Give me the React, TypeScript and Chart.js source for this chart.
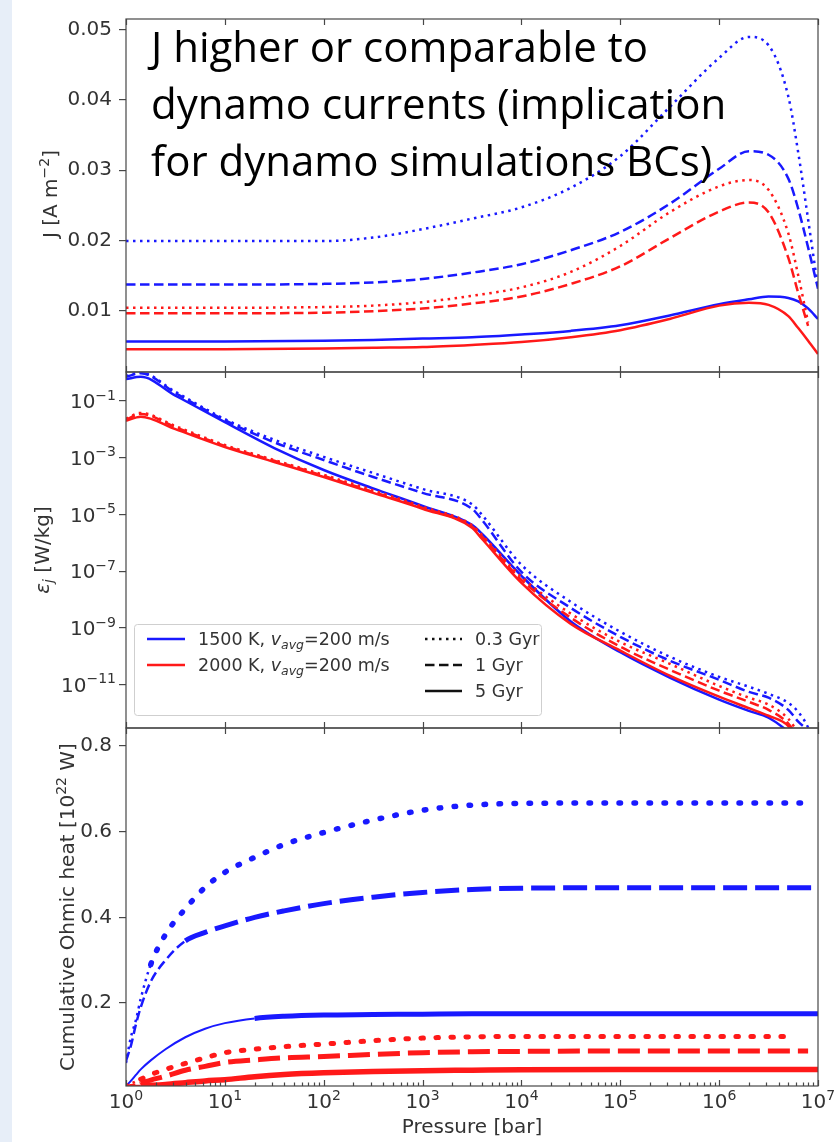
import React, { useEffect, useRef } from 'react';
import { Chart, registerables } from 'chart.js';

Chart.register(...registerables);

const PAGE_W = 835;
const PAGE_H = 1142;
const PLOT_LEFT = 126;
const PLOT_RIGHT = 818;

const BLUE = 'rgb(25, 25, 255)';
const RED = 'rgb(255, 25, 25)';
const INK = '#333333';
const FRAME = '#474747';
const SANS = "'DejaVu Sans', sans-serif";

// Shared pressure axis (bar)
const PRESSURE_MIN = 1;
const PRESSURE_MAX = 1e7;
const PRESSURE_DECADES = [1, 10, 100, 1e3, 1e4, 1e5, 1e6, 1e7];

// ---- Top panel: current density J [A m^-2] ----
const PRESSURE_J = [1, 10, 100, 316, 1000, 3160, 1e4, 3.16e4, 1e5, 3.16e5, 1e6, 2e6, 3.16e6, 5.01e6, 6.31e6, 7.94e6, 1e7];
const J_1500K_03GYR = [0.0199, 0.0199, 0.0199, 0.0204, 0.0216, 0.0231, 0.0247, 0.0275, 0.032, 0.039, 0.046, 0.049, 0.0478, 0.0405, 0.0325, 0.023, 0.0132];
const J_1500K_1GYR = [0.0137, 0.0137, 0.0138, 0.014, 0.0145, 0.0154, 0.0166, 0.0186, 0.0212, 0.0252, 0.0302, 0.0327, 0.0322, 0.0288, 0.0245, 0.019, 0.0131];
const J_1500K_5GYR = [0.0056, 0.0056, 0.0057, 0.0058, 0.006, 0.0062, 0.0066, 0.0071, 0.0079, 0.0093, 0.0109, 0.0116, 0.012, 0.0118, 0.0113, 0.0103, 0.0088];
const J_2000K_03GYR = [0.0104, 0.0104, 0.0105, 0.0107, 0.0112, 0.0121, 0.0133, 0.0155, 0.0192, 0.024, 0.0277, 0.0286, 0.0272, 0.021, 0.015, 0.0083, null];
const J_2000K_1GYR = [0.0096, 0.0096, 0.0097, 0.0099, 0.0103, 0.011, 0.012, 0.0138, 0.0163, 0.0203, 0.0241, 0.0254, 0.024, 0.0175, 0.0125, 0.0078, null];
const J_2000K_5GYR = [0.0045, 0.0045, 0.0046, 0.0047, 0.0048, 0.0051, 0.0055, 0.0062, 0.0072, 0.0088, 0.0107, 0.0111, 0.0108, 0.0092, 0.0075, 0.0057, 0.0038];
const J_MIN = 0.00124;
const J_MAX = 0.05155;
const J_TICKS = [0.01, 0.02, 0.03, 0.04, 0.05];

// ---- Middle panel: specific Ohmic heating [W/kg] ----
const PRESSURE_EPS = [1, 1.41, 3.16, 10, 31.6, 100, 316, 1000, 3160, 3980, 1e4, 3.16e4, 1e5, 3.16e5, 1e6, 2e6, 3.16e6, 5.01e6, 6.31e6, 7.94e6, 1e7];
const EPS_1500K_03GYR = [0.76, 1.0, 0.21, 0.023, 4.3e-3, 1.07e-3, 2.9e-4, 7.9e-5, 2.3e-5, 9.8e-6, 1.7e-7, 8.3e-9, 7.4e-10, 9.8e-11, 1.9e-11, 8.5e-12, 4.8e-12, 2.3e-12, 1.1e-12, 3.1e-13, 3.2e-14];
const EPS_1500K_1GYR = [0.71, 0.95, 0.19, 0.021, 3.5e-3, 8.3e-4, 2.1e-4, 5.8e-5, 1.6e-5, 6.5e-6, 9.5e-8, 5.1e-9, 4.9e-10, 7.1e-11, 1.5e-11, 5.6e-12, 3.5e-12, 1.3e-12, 5.0e-13, 2.2e-13, 3.2e-14];
const EPS_1500K_5GYR = [0.59, 0.71, 0.155, 0.018, 2.2e-3, 3.7e-4, 8.3e-5, 2.0e-5, 4.3e-6, 2.1e-6, 6.9e-8, 1.7e-9, 1.4e-10, 1.8e-11, 3.0e-12, 1.2e-12, 6.9e-13, 2.2e-13, 1e-13, null, null];
const EPS_2000K_03GYR = [0.024, 0.038, 0.013, 2.8e-3, 8.3e-4, 2.5e-4, 7.1e-5, 1.9e-5, 4.2e-6, 1.9e-6, 6.3e-8, 3.2e-9, 3.2e-10, 5.5e-11, 9.1e-12, 3.5e-12, 2.0e-12, 6.3e-13, 2.0e-13, null, null];
const EPS_2000K_1GYR = [0.022, 0.035, 0.012, 2.6e-3, 7.8e-4, 2.3e-4, 6.3e-5, 1.7e-5, 3.8e-6, 1.7e-6, 5.0e-8, 2.3e-9, 2.2e-10, 3.4e-11, 6.2e-12, 2.5e-12, 1.3e-12, 4.3e-13, 1.3e-13, null, null];
const EPS_2000K_5GYR = [0.02, 0.028, 0.0102, 2.4e-3, 7.1e-4, 2.1e-4, 5.8e-5, 1.6e-5, 3.4e-6, 1.4e-6, 3.9e-8, 1.4e-9, 1.6e-10, 2.1e-11, 3.8e-12, 1.5e-12, 8.1e-13, 3.5e-13, 1e-13, null, null];
const EPS_MIN = 3.06e-13;
const EPS_MAX = 1.05;
const EPS_TICKS = [1e-1, 1e-3, 1e-5, 1e-7, 1e-9, 1e-11];

// ---- Bottom panel: cumulative Ohmic heat [10^22 W] ----
const PRESSURE_HEAT = [1, 1.12, 1.26, 1.41, 1.78, 2.51, 3.98, 6.31, 10, 20, 39.8, 100, 316, 1000, 3160, 1e4, 1e5, 1e6, 5.4e6, 7.94e6, 8.9e6, 1e7];
const HEAT_1500K_03GYR = [0.06, 0.12, 0.16, 0.21, 0.29, 0.36, 0.42, 0.47, 0.505, 0.54, 0.57, 0.598, 0.627, 0.65, 0.662, 0.666, 0.667, 0.667, 0.667, 0.667, 0.667, null];
const HEAT_1500K_1GYR = [0.065, 0.1, 0.15, 0.19, 0.25, 0.3, 0.345, 0.365, 0.38, 0.4, 0.415, 0.432, 0.447, 0.458, 0.465, 0.468, 0.469, 0.469, 0.469, 0.469, 0.469, 0.469];
const HEAT_1500K_5GYR = [0.006, 0.018, 0.032, 0.045, 0.066, 0.092, 0.12, 0.14, 0.153, 0.164, 0.169, 0.172, 0.173, 0.174, 0.175, 0.175, 0.175, 0.175, 0.175, 0.175, 0.175, 0.175];
const HEAT_2000K_03GYR = [0.008, 0.012, 0.017, 0.022, 0.033, 0.045, 0.059, 0.072, 0.084, 0.092, 0.098, 0.104, 0.112, 0.118, 0.121, 0.122, 0.122, 0.122, 0.122, null, null, null];
const HEAT_2000K_1GYR = [0.006, 0.008, 0.01, 0.013, 0.02, 0.029, 0.043, 0.052, 0.061, 0.067, 0.072, 0.075, 0.08, 0.084, 0.086, 0.087, 0.088, 0.088, 0.088, 0.088, null, null];
const HEAT_2000K_5GYR = [0.006, 0.006, 0.007, 0.007, 0.008, 0.01, 0.014, 0.018, 0.021, 0.028, 0.033, 0.037, 0.04, 0.042, 0.043, 0.044, 0.045, 0.045, 0.045, 0.045, 0.045, 0.045];
const HEAT_MIN = 0.0062;
const HEAT_MAX = 0.842;
const HEAT_TICKS = [0.2, 0.4, 0.6, 0.8];

// ---- Text ----
const NOTE_LINES = ['J higher or comparable to', 'dynamo currents (implication', 'for dynamo simulations BCs)'];
const MODEL_LABELS = ['1500 K', '2000 K'];
const WIND_SPEED = 200;
const AGE_LABELS = ['0.3 Gyr', '1 Gyr', '5 Gyr'];

type LineStyle = 'dotted' | 'dashed' | 'solid';
const DASH: Record<LineStyle, number[]> = { dotted: [2.5, 4.5], dashed: [9.5, 4.5], solid: [] };

type Run = { t: string; size: number; italic?: boolean; dy?: number };

function runFont(r: Run) {
  return `${r.italic ? 'italic ' : ''}${r.size}px ${SANS}`;
}

function drawRuns(ctx: CanvasRenderingContext2D, runs: Run[], x: number, y: number, align: 'left' | 'right' | 'center') {
  const widths = runs.map((r) => {
    ctx.font = runFont(r);
    return ctx.measureText(r.t).width;
  });
  const total = widths.reduce((a, b) => a + b, 0);
  let cx = align === 'left' ? x : align === 'right' ? x - total : x - total / 2;
  ctx.textAlign = 'left';
  ctx.textBaseline = 'alphabetic';
  runs.forEach((r, i) => {
    ctx.font = runFont(r);
    ctx.fillText(r.t, cx, y + (r.dy ?? 0));
    cx += widths[i];
  });
}

function powerOfTen(value: number, size = 20): Run[] {
  const exp = Math.round(Math.log10(value));
  return [
    { t: '10', size },
    { t: String(exp).replace('-', '\u2212'), size: size * 0.7, dy: -size * 0.42 },
  ];
}

function drawYTitle(ctx: CanvasRenderingContext2D, runs: Run[], baselineX: number, centerY: number) {
  ctx.save();
  ctx.translate(baselineX, centerY);
  ctx.rotate(-Math.PI / 2);
  ctx.fillStyle = INK;
  drawRuns(ctx, runs, 0, 0, 'center');
  ctx.restore();
}

function lineSet(label: string, xs: number[], ys: (number | null)[], color: string, style: LineStyle) {
  return {
    label,
    data: xs.map((x, i) => ({ x, y: ys[i] })),
    borderColor: color,
    borderWidth: 2.5,
    borderDash: DASH[style],
    pointRadius: 0,
    fill: false,
    cubicInterpolationMode: 'monotone',
  };
}

type Stroke = { w: number; dash: number[]; cap?: CanvasLineCap };

function heatSet(label: string, ys: (number | null)[], color: string, thickFrom: number, thin: Stroke, thick: Stroke) {
  const pick = (c: any) => (c.p0.parsed.x >= thickFrom ? thick : thin);
  return {
    label,
    data: PRESSURE_HEAT.map((x, i) => ({ x, y: ys[i] })),
    borderColor: color,
    borderWidth: thin.w,
    borderDash: thin.dash,
    borderJoinStyle: 'round',
    pointRadius: 0,
    fill: false,
    cubicInterpolationMode: 'monotone',
    segment: {
      borderWidth: (c: any) => pick(c).w,
      borderDash: (c: any) => pick(c).dash,
      borderCapStyle: (c: any) => pick(c).cap ?? 'butt',
    },
  };
}

function framePlugin(minorTicks: boolean, decorate: (chart: any) => void) {
  return {
    id: 'panelFrame',
    afterDraw(chart: any) {
      const { ctx, chartArea: a } = chart;
      const xs = chart.scales.x;
      ctx.save();
      ctx.strokeStyle = FRAME;
      ctx.lineWidth = 1.2;
      ctx.setLineDash([]);
      ctx.beginPath();
      PRESSURE_DECADES.forEach((p) => {
        const px = Math.round(xs.getPixelForValue(p)) + 0.5;
        ctx.moveTo(px, a.top);
        ctx.lineTo(px, a.top + 6);
        ctx.moveTo(px, a.bottom);
        ctx.lineTo(px, a.bottom - 6);
      });
      if (minorTicks) {
        PRESSURE_DECADES.slice(0, -1).forEach((d) => {
          for (let m = 2; m <= 9; m++) {
            const px = Math.round(xs.getPixelForValue(m * d)) + 0.5;
            ctx.moveTo(px, a.bottom);
            ctx.lineTo(px, a.bottom - 3.5);
          }
        });
      }
      ctx.stroke();
      ctx.strokeRect(a.left, a.top, a.right - a.left, a.bottom - a.top);
      ctx.restore();
      ctx.save();
      decorate(chart);
      ctx.restore();
    },
  };
}

function xScale() {
  return { type: 'logarithmic', min: PRESSURE_MIN, max: PRESSURE_MAX, display: false };
}

function yScale(type: string, min: number, max: number, ticks: number[], label: (v: number) => string) {
  return {
    type,
    position: 'left',
    min,
    max,
    afterFit: (s: any) => {
      s.width = PLOT_LEFT;
    },
    afterBuildTicks: (s: any) => {
      s.ticks = ticks.map((value) => ({ value }));
    },
    grid: { display: true, drawOnChartArea: false, drawTicks: true, tickLength: 7, color: FRAME, lineWidth: 1.2 },
    border: { display: false },
    ticks: {
      padding: 7,
      color: INK,
      font: { family: SANS, size: 20 },
      autoSkip: false,
      maxRotation: 0,
      callback: (v: any) => label(Number(v)),
    },
  };
}

function baseOptions(top: number, bottom: number) {
  return {
    responsive: false,
    animation: false,
    events: [],
    layout: { padding: { left: 0, right: PAGE_W - PLOT_RIGHT, top, bottom: PAGE_H - bottom } },
    plugins: { legend: { display: false }, tooltip: { enabled: false } },
  };
}

function buildJ() {
  return {
    type: 'line',
    data: {
      datasets: [
        lineSet('2000 K, 0.3 Gyr', PRESSURE_J, J_2000K_03GYR, RED, 'dotted'),
        lineSet('2000 K, 1 Gyr', PRESSURE_J, J_2000K_1GYR, RED, 'dashed'),
        lineSet('2000 K, 5 Gyr', PRESSURE_J, J_2000K_5GYR, RED, 'solid'),
        lineSet('1500 K, 0.3 Gyr', PRESSURE_J, J_1500K_03GYR, BLUE, 'dotted'),
        lineSet('1500 K, 1 Gyr', PRESSURE_J, J_1500K_1GYR, BLUE, 'dashed'),
        lineSet('1500 K, 5 Gyr', PRESSURE_J, J_1500K_5GYR, BLUE, 'solid'),
      ],
    },
    options: {
      ...baseOptions(16, 372),
      scales: {
        x: xScale(),
        y: yScale('linear', J_MIN, J_MAX, J_TICKS, (v) => v.toFixed(2)),
      },
    },
    plugins: [
      framePlugin(false, (chart: any) => {
        const ctx: CanvasRenderingContext2D = chart.ctx;
        drawYTitle(ctx, [{ t: 'J [A m', size: 20 }, { t: '\u22122', size: 14, dy: -8 }, { t: ']', size: 20 }], 57, 194);
        ctx.fillStyle = '#000000';
        ctx.font = "42px 'Open Sans', sans-serif";
        ctx.textAlign = 'left';
        ctx.textBaseline = 'alphabetic';
        NOTE_LINES.forEach((line, i) => ctx.fillText(line, 151, 62 + i * 57));
      }),
    ],
  };
}

function drawLegend(ctx: CanvasRenderingContext2D) {
  ctx.fillStyle = 'rgba(255,255,255,0.85)';
  ctx.strokeStyle = '#cfcfcf';
  ctx.lineWidth = 1;
  ctx.setLineDash([]);
  ctx.beginPath();
  (ctx as any).roundRect(134.5, 624.5, 407, 91, 3);
  ctx.fill();
  ctx.stroke();
  const rows = [639, 665, 691];
  [BLUE, RED].forEach((color, i) => {
    ctx.strokeStyle = color;
    ctx.lineWidth = 2.5;
    ctx.setLineDash([]);
    ctx.beginPath();
    ctx.moveTo(147, rows[i]);
    ctx.lineTo(185, rows[i]);
    ctx.stroke();
    ctx.fillStyle = INK;
    drawRuns(
      ctx,
      [
        { t: `${MODEL_LABELS[i]}, `, size: 17.5 },
        { t: 'v', size: 17.5, italic: true },
        { t: 'avg', size: 12.5, italic: true, dy: 3.5 },
        { t: `=${WIND_SPEED} m/s`, size: 17.5 },
      ],
      198,
      rows[i] + 6,
      'left'
    );
  });
  const styles: LineStyle[] = ['dotted', 'dashed', 'solid'];
  styles.forEach((style, i) => {
    ctx.strokeStyle = '#111111';
    ctx.lineWidth = 2.5;
    ctx.setLineDash(DASH[style]);
    ctx.beginPath();
    ctx.moveTo(425, rows[i]);
    ctx.lineTo(462, rows[i]);
    ctx.stroke();
    ctx.setLineDash([]);
    ctx.fillStyle = INK;
    drawRuns(ctx, [{ t: AGE_LABELS[i], size: 17.5 }], 475, rows[i] + 6, 'left');
  });
}

function buildEps() {
  return {
    type: 'line',
    data: {
      datasets: [
        lineSet('2000 K, 0.3 Gyr', PRESSURE_EPS, EPS_2000K_03GYR, RED, 'dotted'),
        lineSet('2000 K, 1 Gyr', PRESSURE_EPS, EPS_2000K_1GYR, RED, 'dashed'),
        lineSet('2000 K, 5 Gyr', PRESSURE_EPS, EPS_2000K_5GYR, RED, 'solid'),
        lineSet('1500 K, 0.3 Gyr', PRESSURE_EPS, EPS_1500K_03GYR, BLUE, 'dotted'),
        lineSet('1500 K, 1 Gyr', PRESSURE_EPS, EPS_1500K_1GYR, BLUE, 'dashed'),
        lineSet('1500 K, 5 Gyr', PRESSURE_EPS, EPS_1500K_5GYR, BLUE, 'solid'),
      ],
    },
    options: {
      ...baseOptions(372, 728),
      scales: {
        x: xScale(),
        y: yScale('logarithmic', EPS_MIN, EPS_MAX, EPS_TICKS, () => ''),
      },
    },
    plugins: [
      framePlugin(false, (chart: any) => {
        const ctx: CanvasRenderingContext2D = chart.ctx;
        const ys = chart.scales.y;
        ctx.fillStyle = INK;
        EPS_TICKS.forEach((v) => drawRuns(ctx, powerOfTen(v), 116, ys.getPixelForValue(v) + 7, 'right'));
        drawYTitle(
          ctx,
          [{ t: '\u03b5', size: 20, italic: true }, { t: 'j', size: 14, italic: true, dy: 4 }, { t: ' [W/kg]', size: 20 }],
          49,
          550
        );
        drawLegend(ctx);
      }),
    ],
  };
}

function buildHeat() {
  const thinDot = { w: 2.5, dash: DASH.dotted };
  const thinDash = { w: 2.5, dash: DASH.dashed };
  const thinSolid = { w: 2, dash: [] as number[] };
  return {
    type: 'line',
    data: {
      datasets: [
        heatSet('2000 K, 0.3 Gyr', HEAT_2000K_03GYR, RED, 1.3, thinDot, { w: 5, dash: [2.5, 12.5], cap: 'round' }),
        heatSet('2000 K, 1 Gyr', HEAT_2000K_1GYR, RED, 1.3, thinDash, { w: 5, dash: [22, 8] }),
        heatSet('2000 K, 5 Gyr', HEAT_2000K_5GYR, RED, 1.3, thinSolid, { w: 5.5, dash: [] }),
        heatSet('1500 K, 0.3 Gyr', HEAT_1500K_03GYR, BLUE, 1.7, thinDot, { w: 5.5, dash: [1.5, 13.5], cap: 'round' }),
        heatSet('1500 K, 1 Gyr', HEAT_1500K_1GYR, BLUE, 3.9, thinDash, { w: 5, dash: [24, 8] }),
        heatSet('1500 K, 5 Gyr', HEAT_1500K_5GYR, BLUE, 19, thinSolid, { w: 5, dash: [] }),
      ],
    },
    options: {
      ...baseOptions(728, 1086),
      scales: {
        x: xScale(),
        y: yScale('linear', HEAT_MIN, HEAT_MAX, HEAT_TICKS, (v) => v.toFixed(1)),
      },
    },
    plugins: [
      framePlugin(true, (chart: any) => {
        const ctx: CanvasRenderingContext2D = chart.ctx;
        const xs = chart.scales.x;
        const a = chart.chartArea;
        ctx.fillStyle = INK;
        PRESSURE_DECADES.forEach((p) => drawRuns(ctx, powerOfTen(p), xs.getPixelForValue(p), 1108, 'center'));
        drawRuns(ctx, [{ t: 'Pressure [bar]', size: 20 }], (a.left + a.right) / 2, 1133, 'center');
        drawYTitle(
          ctx,
          [{ t: 'Cumulative Ohmic heat [10', size: 20 }, { t: '22', size: 14, dy: -8 }, { t: ' W]', size: 20 }],
          74,
          907
        );
      }),
    ],
  };
}

function PanelChart({ build }: { build: () => any }) {
  const ref = useRef<HTMLCanvasElement>(null);
  useEffect(() => {
    if (!ref.current) return;
    const chart = new Chart(ref.current, build());
    return () => chart.destroy();
  }, [build]);
  return (
    <canvas
      ref={ref}
      width={PAGE_W}
      height={PAGE_H}
      style={{ position: 'absolute', left: 0, top: 0, width: PAGE_W, height: PAGE_H }}
    />
  );
}

export default function App() {
  return (
    <div
      style={{
        position: 'absolute',
        left: 0,
        top: 0,
        width: PAGE_W,
        height: PAGE_H,
        background: '#ffffff',
        overflow: 'hidden',
      }}
    >
      <div style={{ position: 'absolute', left: 0, top: 0, width: 12, height: PAGE_H, background: '#e7eef8' }} />
      <PanelChart build={buildJ} />
      <PanelChart build={buildEps} />
      <PanelChart build={buildHeat} />
    </div>
  );
}
